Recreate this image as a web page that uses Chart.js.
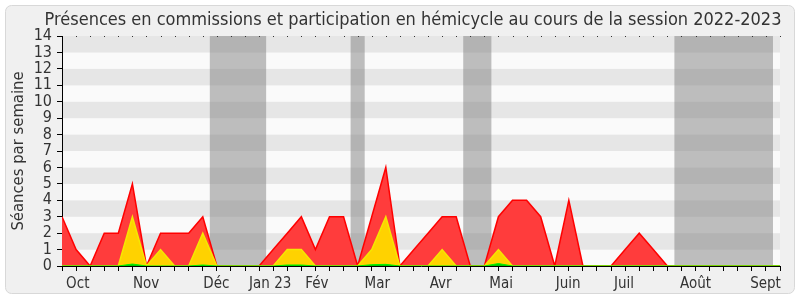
<!DOCTYPE html>
<html>
<head>
<meta charset="utf-8">
<script src="https://cdn.jsdelivr.net/npm/chart.js@4.4.0/dist/chart.umd.min.js"></script>
<style>
  html, body { margin: 0; padding: 0; background: #fff; }
</style>
</head>
<body>
<canvas id="presenceChart" width="800" height="300"></canvas>
<script>
// semaines de la session (index 0 = fin septembre 2022)
const weekIndex = Array.from({ length: 52 }, (_, i) => i);

// séances par semaine
const hemicycle = [3, 1, 0, 2, 2, 5, 0, 2, 2, 2, 3, 0, 0, 0, 0, 1, 2, 3, 1, 3, 3, 0, 3, 6, 0, 1,
                   2, 3, 3, 0, 0, 3, 4, 4, 3, 0, 4, 0, 0, 0, 1, 2, 1, 0, 0, 0, 0, 0, 0, 0, 0, 0];
const commission = [0, 0, 0, 0, 0, 3, 0, 1, 0, 0, 2, 0, 0, 0, 0, 0, 1, 1, 0, 0, 0, 0, 1, 3, 0, 0,
                    0, 1, 0, 0, 0, 1, 0, 0, 0, 0, 0, 0, 0, 0, 0, 0, 0, 0, 0, 0, 0, 0, 0, 0, 0, 0];
const interventions = [0, 0, 0, 0, 0, 0.12, 0, 0, 0, 0, 0.06, 0, 0, 0, 0, 0, 0.06, 0.06, 0, 0, 0, 0, 0.08, 0.1, 0, 0,
                       0, 0, 0, 0, 0, 0.15, 0, 0, 0, 0, 0, 0, 0, 0, 0, 0, 0, 0, 0, 0, 0, 0, 0, 0, 0, 0];

// libellés des mois (position en semaines)
const monthLabels = ['Oct', 'Nov', 'Déc', 'Jan 23', 'Fév', 'Mar', 'Avr', 'Mai', 'Juin', 'Juil', 'Août', 'Sept'];
const monthPos = [1.12, 5.97, 10.96, 14.79, 18.1, 22.39, 26.9, 31.19, 35.96, 39.92, 45.0, 49.97];

// vacances parlementaires (début, fin en semaines)
const vacances = [[10.5, 14.5], [20.5, 21.5], [28.5, 30.5], [43.5, 50.5]];

Chart.defaults.font.family = "'DejaVu Sans Condensed', 'DejaVu Sans', sans-serif";
Chart.defaults.color = '#333';

// fond, bandes grises et vacances
const fond = {
  id: 'fond',
  beforeDraw(chart) {
    const { ctx, width, height, chartArea: a, scales: { x, y } } = chart;
    ctx.save();
    ctx.fillStyle = '#fff';
    ctx.fillRect(0, 0, width, height);
    ctx.beginPath();
    ctx.roundRect(5.5, 5.5, 789, 288, 6);
    ctx.fillStyle = '#f0f0f0';
    ctx.fill();
    ctx.strokeStyle = '#d8d8d8';
    ctx.stroke();

    for (let v = 0; v < 14; v++) {
      ctx.fillStyle = v % 2 ? '#e6e6e6' : '#fafafa';
      const y0 = y.getPixelForValue(v + 1), y1 = y.getPixelForValue(v);
      ctx.fillRect(a.left, y0, a.right - a.left, y1 - y0);
    }

    ctx.fillStyle = 'rgba(128,128,128,0.5)';
    vacances.forEach(([d, f]) => {
      const x0 = x.getPixelForValue(d);
      ctx.fillRect(x0, a.top, x.getPixelForValue(f) - x0, a.bottom - a.top);
    });

    // pointillés en haut
    ctx.fillStyle = '#333';
    weekIndex.forEach(w => ctx.fillRect(Math.round(x.getPixelForValue(w)), a.top, 1, 1));
    ctx.restore();
  }
};

const ctx = document.getElementById('presenceChart');
new Chart(ctx, {
  type: 'line',
  data: {
    labels: weekIndex,
    datasets: [
      {
        label: 'Interventions',
        data: interventions,
        borderColor: '#00ee00',
        backgroundColor: '#00cc00',
        borderWidth: 1,
        fill: 'origin',
        order: 0
      },
      {
        label: 'Commission',
        data: commission,
        borderColor: '#f5e800',
        backgroundColor: '#ffd200',
        borderWidth: 1.5,
        fill: 'origin',
        order: 1
      },
      {
        label: 'Hémicycle',
        data: hemicycle,
        borderColor: '#ff0000',
        backgroundColor: '#ff3c3c',
        borderWidth: 1.5,
        fill: 'origin',
        order: 2
      }
    ]
  },
  options: {
    responsive: false,
    animation: false,
    layout: { padding: { left: 26, right: 0, top: 0, bottom: 0 } },
    elements: { point: { radius: 0 }, line: { tension: 0 } },
    plugins: {
      legend: { display: false },
      tooltip: { enabled: false },
      title: {
        display: true,
        text: 'Présences en commissions et participation en hémicycle au cours de la session 2022-2023',
        font: { size: 18, weight: 'normal' },
        color: '#333',
        padding: { top: 10, bottom: 4.4 }
      }
    },
    scales: {
      x: {
        type: 'linear',
        position: 'bottom',
        weight: 0,
        min: 0,
        max: 51,
        afterBuildTicks: s => { s.ticks = weekIndex.map(v => ({ value: v })); },
        afterFit: s => { s.height = 5; },
        ticks: { display: false },
        grid: { drawOnChartArea: false, tickLength: 5, tickColor: '#000' },
        border: { color: '#000' }
      },
      x2: {
        type: 'linear',
        position: 'bottom',
        weight: 1,
        min: 0,
        max: 51,
        afterBuildTicks: s => { s.ticks = monthPos.map(v => ({ value: v })); },
        afterFit: s => { s.height = 29; },
        ticks: {
          autoSkip: false,
          maxRotation: 0,
          padding: -4,
          font: { size: 15 },
          color: '#333',
          callback: (v, i) => monthLabels[i]
        },
        grid: { display: false },
        border: { display: false }
      },
      y: {
        min: 0,
        max: 14,
        afterFit: s => { s.width = 36; },
        ticks: { stepSize: 1, autoSkip: false, font: { size: 16 }, color: '#333', padding: 5 },
        grid: { drawOnChartArea: false, tickLength: 5, tickColor: '#000' },
        border: { color: '#000' },
        title: {
          display: true,
          text: 'Séances par semaine',
          font: { size: 16.5 },
          color: '#333',
          padding: { top: -17.5, bottom: 0 }
        }
      },
      // marge droite (réserve l'espace à droite du graphique)
      marge: {
        type: 'linear',
        position: 'right',
        afterFit: s => { s.width = 20; },
        ticks: { display: false },
        grid: { display: false },
        border: { display: false }
      }
    }
  },
  plugins: [fond]
});
</script>
</body>
</html>
